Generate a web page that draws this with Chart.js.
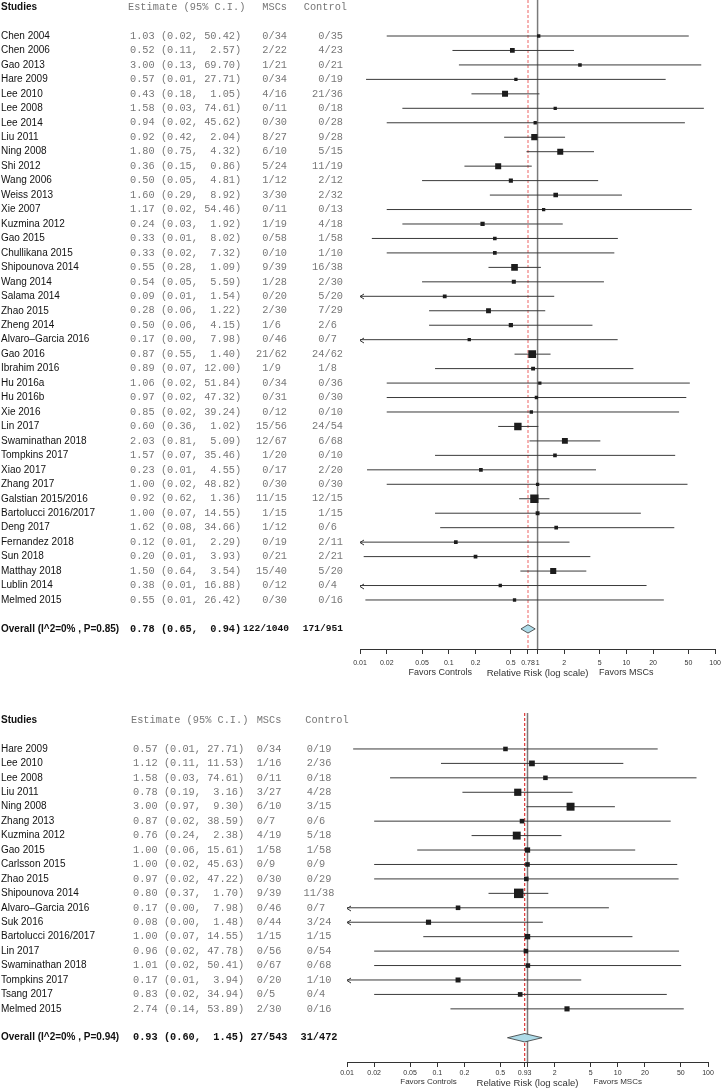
<!DOCTYPE html>
<html>
<head>
<meta charset="utf-8">
<script src="https://cdn.jsdelivr.net/npm/chart.js@4.4.1/dist/chart.umd.min.js"></script>
<style>
  body { margin: 0; background: #fff; }
  canvas { display: block; }
</style>
</head>
<body>
<canvas id="forestAll" width="726" height="690"></canvas>
<canvas id="forestSub" width="726" height="399"></canvas>
<script>
// ---- panel 1 : all studies ----
const studiesA = ['Chen 2004','Chen 2006','Gao 2013','Hare 2009','Lee 2010','Lee 2008','Lee 2014','Liu 2011','Ning 2008','Shi 2012',
  'Wang 2006','Weiss 2013','Xie 2007','Kuzmina 2012','Gao 2015','Chullikana 2015','Shipounova 2014','Wang 2014','Salama 2014','Zhao 2015',
  'Zheng 2014','Alvaro\u2013Garcia 2016','Gao 2016','Ibrahim 2016','Hu 2016a','Hu 2016b','Xie 2016','Lin 2017','Swaminathan 2018','Tompkins 2017',
  'Xiao 2017','Zhang 2017','Galstian 2015/2016','Bartolucci 2016/2017','Deng 2017','Fernandez 2018','Sun 2018','Matthay 2018','Lublin 2014','Melmed 2015'];
const rrA = [1.03,0.52,3.00,0.57,0.43,1.58,0.94,0.92,1.80,0.36,0.50,1.60,1.17,0.24,0.33,0.33,0.55,0.54,0.09,0.28,
  0.50,0.17,0.87,0.89,1.06,0.97,0.85,0.60,2.03,1.57,0.23,1.00,0.92,1.00,1.62,0.12,0.20,1.50,0.38,0.55];
const lowA = [0.02,0.11,0.13,0.0117,0.18,0.03,0.02,0.42,0.75,0.15,0.05,0.29,0.02,0.03,0.0136,0.02,0.28,0.05,0.006,0.06,
  0.06,0.004,0.55,0.07,0.02,0.02,0.02,0.36,0.81,0.07,0.012,0.02,0.62,0.07,0.08,0.006,0.011,0.64,0.008,0.0115];
const highA = [50.42,2.57,69.70,27.71,1.05,74.61,45.62,2.04,4.32,0.86,4.81,8.92,54.46,1.92,8.02,7.32,1.09,5.59,1.54,1.22,
  4.15,7.98,1.40,12.00,51.84,47.32,39.24,1.02,5.09,35.46,4.55,48.82,1.36,14.55,34.66,2.29,3.93,3.54,16.88,26.42];
const mscA = ['0/34','2/22','1/21','0/34','4/16','0/11','0/30','8/27','6/10','5/24','1/12','3/30','0/11','1/19','0/58','0/10','9/39','1/28','0/20','2/30',
  '1/6','0/46','21/62','1/9','0/34','0/31','0/12','15/56','12/67','1/20','0/17','0/30','11/15','1/15','1/12','0/19','0/21','15/40','0/12','0/30'];
const ctrlA = ['0/35','4/23','0/21','0/19','21/36','0/18','0/28','9/28','5/15','11/19','2/12','2/32','0/13','4/18','1/58','1/10','16/38','2/30','5/20','7/29',
  '2/6','0/7','24/62','1/8','0/36','0/30','0/10','24/54','6/68','0/10','2/20','0/30','12/15','1/15','0/6','2/11','2/21','5/20','0/4','0/16'];
const overallA = { label: 'Overall (I^2=0% , P=0.85)', rr: 0.78, low: 0.65, high: 0.94, msc: '122/1040', ctrl: '171/951' };
const tickValsA = [0.01,0.02,0.05,0.1,0.2,0.5,0.78,1,2,5,10,20,50,100];
const tickLabelsA = ['0.01','0.02','0.05','0.1','0.2','0.5','0.78','1','2','5','10','20','50','100'];

// ---- panel 2 : subset ----
const studiesB = ['Hare 2009','Lee 2010','Lee 2008','Liu 2011','Ning 2008','Zhang 2013','Kuzmina 2012','Gao 2015','Carlsson 2015','Zhao 2015',
  'Shipounova 2014','Alvaro\u2013Garcia 2016','Suk 2016','Bartolucci 2016/2017','Lin 2017','Swaminathan 2018','Tompkins 2017','Tsang 2017','Melmed 2015'];
const rrB = [0.57,1.12,1.58,0.78,3.00,0.87,0.76,1.00,1.00,0.97,0.80,0.17,0.08,1.00,0.96,1.01,0.17,0.83,2.74];
const lowB = [0.0117,0.11,0.03,0.19,0.97,0.02,0.24,0.06,0.02,0.02,0.37,0.004,0.004,0.07,0.02,0.02,0.007,0.02,0.14];
const highB = [27.71,11.53,74.61,3.16,9.30,38.59,2.38,15.61,45.63,47.22,1.70,7.98,1.48,14.55,47.78,50.41,3.94,34.94,53.89];
const mscB = ['0/34','1/16','0/11','3/27','6/10','0/7','4/19','1/58','0/9','0/30','9/39','0/46','0/44','1/15','0/56','0/67','0/20','0/5','2/30'];
const ctrlB = ['0/19','2/36','0/18','4/28','3/15','0/6','5/18','1/58','0/9','0/29','11/38','0/7','3/24','1/15','0/54','0/68','1/10','0/4','0/16'];
const overallB = { label: 'Overall (I^2=0% , P=0.94)', rr: 0.93, low: 0.60, high: 1.45, msc: '27/543', ctrl: '31/472' };
const tickValsB = [0.01,0.02,0.05,0.1,0.2,0.5,0.93,1,2,5,10,20,50,100];
const tickLabelsB = ['0.01','0.02','0.05','0.1','0.2','0.5','0.93','','2','5','10','20','50','100'];

Chart.defaults.font.family = '"Liberation Sans", Arial, sans-serif';
const SANS = '"Liberation Sans", Arial, sans-serif';
const MONO = '"Liberation Mono", "Courier New", monospace';
const f2 = v => v.toFixed(2);

function forestPlugin(p) {
  return {
    id: 'forest_' + p.id,
    afterDatasetsDraw(chart) {
      const { ctx, chartArea } = chart;
      const x = chart.scales.x, y = chart.scales.y;
      ctx.save();
      // arrows for intervals running past the left end
      ctx.strokeStyle = '#333';
      ctx.lineWidth = 1;
      p.low.forEach((lo, i) => {
        if (lo >= x.min) return;
        const yy = Math.round(y.getPixelForValue(i)) + 0.5;
        const xx = chartArea.left;
        ctx.beginPath();
        ctx.moveTo(xx + 4, yy - 2.5);
        ctx.lineTo(xx, yy);
        ctx.lineTo(xx + 4, yy + 2.5);
        ctx.stroke();
      });
      // pooled diamond
      const o = p.overall;
      const yc = y.getPixelForValue(p.rr.length + 1);
      ctx.beginPath();
      ctx.moveTo(x.getPixelForValue(o.low), yc);
      ctx.lineTo(x.getPixelForValue(o.rr), yc - 4.2);
      ctx.lineTo(x.getPixelForValue(o.high), yc);
      ctx.lineTo(x.getPixelForValue(o.rr), yc + 4.2);
      ctx.closePath();
      ctx.fillStyle = '#aedbe8';
      ctx.fill();
      ctx.strokeStyle = '#333';
      ctx.lineWidth = 0.8;
      ctx.stroke();
      ctx.restore();
    },
    afterDraw(chart) {
      const { ctx, chartArea } = chart;
      const x = chart.scales.x, y = chart.scales.y;
      const rowY = r => y.getPixelForValue(r);
      ctx.save();
      ctx.textBaseline = 'middle';
      // header
      ctx.fillStyle = '#111';
      ctx.font = 'bold 10px ' + SANS;
      ctx.textAlign = 'left';
      ctx.fillText('Studies', 1, rowY(-2));
      ctx.fillStyle = '#777';
      ctx.font = '10.3px ' + MONO;
      ctx.fillText('Estimate (95% C.I.)', p.estX - 2, rowY(-2));
      ctx.textAlign = p.countAlign;
      ctx.fillText('MSCs', p.mscX, rowY(-2));
      ctx.fillText('Control', p.ctrlX + (p.countAlign === 'right' ? 4 : 8), rowY(-2));
      // rows
      p.studies.forEach((name, i) => {
        const yy = rowY(i);
        ctx.textAlign = 'left';
        ctx.fillStyle = '#111';
        ctx.font = '10px ' + SANS;
        ctx.fillText(name, 1, yy);
        ctx.fillStyle = '#777';
        ctx.font = '10.3px ' + MONO;
        ctx.fillText(f2(p.rr[i]) + ' (' + f2(p.low[i]) + ', ' + f2(p.high[i]).padStart(5) + ')', p.estX, yy);
        ctx.textAlign = p.countAlign;
        ctx.fillText(p.msc[i].padEnd(4), p.mscX, yy);
        ctx.fillText(p.ctrl[i].padEnd(4), p.ctrlX, yy);
      });
      // overall row
      const o = p.overall, yo = rowY(p.studies.length + 1);
      ctx.fillStyle = '#111';
      ctx.textAlign = 'left';
      ctx.font = 'bold 10px ' + SANS;
      ctx.fillText(o.label, 1, yo);
      ctx.font = 'bold 10.3px ' + MONO;
      ctx.fillText(f2(o.rr) + ' (' + f2(o.low) + ', ' + f2(o.high).padStart(5) + ')', p.estX, yo);
      ctx.textAlign = p.countAlign;
      ctx.font = 'bold ' + p.totalSize + 'px ' + MONO;
      ctx.fillText(o.msc, p.mscX + p.totalShift, yo);
      ctx.fillText(o.ctrl, p.ctrlX, yo);
      // favours labels beside the axis title
      ctx.fillStyle = '#333';
      ctx.textAlign = 'center';
      ctx.font = p.favorSize + 'px ' + SANS;
      ctx.fillText('Favors Controls', x.getPixelForValue(0.08), chartArea.bottom + p.favorDy);
      ctx.fillText('Favors MSCs', x.getPixelForValue(10), chartArea.bottom + p.favorDy);
      ctx.restore();
    }
  };
}

function drawForest(canvasId, p) {
  const n = p.rr.length;
  const boxSide = i => {
    const lo = Math.max(p.low[i], 0.001);
    const se = (Math.log(p.high[i]) - Math.log(lo)) / 3.92;
    return Math.min(p.boxA * Math.pow(se, -p.boxP), 10);
  };
  const datasets = [];
  datasets.push({
    type: 'line', data: [{ x: 1, y: p.yMin }, { x: 1, y: p.yMax }],
    borderColor: '#7a7a7a', borderWidth: 1.5, pointRadius: 0, order: 6
  });
  datasets.push({
    type: 'line', data: [{ x: p.overall.rr, y: p.yMin }, { x: p.overall.rr, y: p.yMax }],
    borderColor: p.dashColor, borderWidth: 1.2, borderDash: [3, 2], pointRadius: 0, order: 5
  });
  for (let i = 0; i < n; i++) {
    datasets.push({
      type: 'line', data: [{ x: p.low[i], y: i }, { x: p.high[i], y: i }],
      borderColor: '#3a3a3a', borderWidth: 1, pointRadius: 0, order: 3
    });
  }
  datasets.push({
    type: 'scatter', data: p.rr.map((v, i) => ({ x: v, y: i })),
    pointStyle: 'rect', pointRadius: c => boxSide(c.dataIndex) / 1.414,
    backgroundColor: '#1c1c1c', borderColor: '#1c1c1c', borderWidth: 0, order: 1
  });

  new Chart(document.getElementById(canvasId), {
    type: 'scatter',
    data: { datasets },
    options: {
      responsive: false,
      animation: false,
      events: [],
      devicePixelRatio: 1,
      layout: { autoPadding: false, padding: { left: p.padLeft, right: p.padRight, top: p.padTop, bottom: 0 } },
      plugins: { legend: { display: false }, tooltip: { enabled: false } },
      scales: {
        x: {
          type: 'logarithmic', min: 0.01, max: 100,
          afterBuildTicks: s => { s.ticks = p.tickVals.map(v => ({ value: v })); },
          afterFit: s => { s.height = p.axisH; },
          grid: { drawOnChartArea: false, drawTicks: true, tickLength: 5, color: '#333', lineWidth: 1 },
          border: { display: true, color: '#333', width: 1 },
          ticks: {
            autoSkip: false, maxRotation: 0, padding: p.tickPad, color: '#333',
            font: { size: 7 },
            callback: (v, i) => p.tickLabels[i]
          },
          title: {
            display: true, text: 'Relative Risk (log scale)', color: '#333',
            font: { size: p.titleSize }, padding: { top: 0, bottom: p.titlePad }
          }
        },
        y: { type: 'linear', display: false, reverse: true, min: p.yMin, max: p.yMax }
      }
    },
    plugins: [forestPlugin(p)]
  });
}

drawForest('forestAll', {
  id: 'A', studies: studiesA, rr: rrA, low: lowA, high: highA, msc: mscA, ctrl: ctrlA,
  overall: overallA, tickVals: tickValsA, tickLabels: tickLabelsA,
  yMin: -2.49, yMax: 42.39, padTop: 0, padLeft: 360, padRight: 6, axisH: 41, tickPad: 5,
  titleSize: 9.5, titlePad: 11, favorSize: 9, favorDy: 24,
  estX: 130, mscX: 287, ctrlX: 343, countAlign: 'right', totalSize: 9.6, totalShift: 2,
  boxA: 4.35, boxP: 0.4, dashColor: 'rgba(235,80,80,0.75)'
});
drawForest('forestSub', {
  id: 'B', studies: studiesB, rr: rrB, low: lowB, high: highB, msc: mscB, ctrl: ctrlB,
  overall: overallB, tickVals: tickValsB, tickLabels: tickLabelsB,
  yMin: -2.49, yMax: 21.68, padTop: 23, padLeft: 347, padRight: 18, axisH: 27, tickPad: 2,
  titleSize: 9.5, titlePad: 0, favorSize: 8, favorDy: 20,
  estX: 133, mscX: 269, ctrlX: 319, countAlign: 'center', totalSize: 10.3, totalShift: 0,
  boxA: 6.2, boxP: 0.45, dashColor: '#e03a3a'
});
</script>
</body>
</html>
